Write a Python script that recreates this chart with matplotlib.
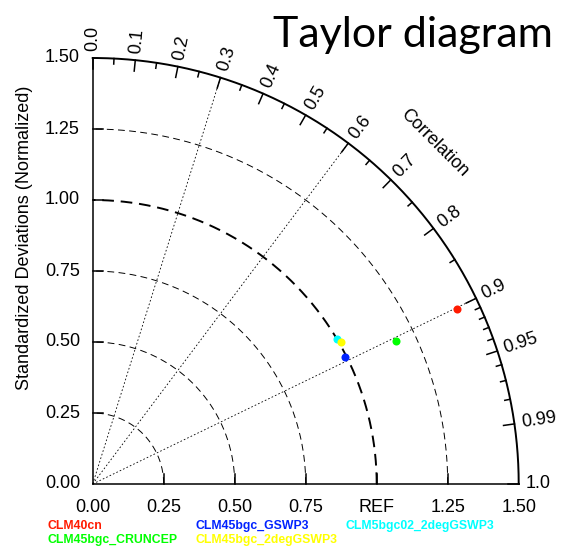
import numpy as np
import matplotlib
matplotlib.use("Agg")
import matplotlib.pyplot as plt

# model results: normalized standard deviation and correlation
names = ["CLM40cn", "CLM45bgc_CRUNCEP", "CLM45bgc_GSWP3",
         "CLM5bgc02_2degGSWP3", "CLM45bgc_2degGSWP3"]
colors = ["#ff1a00", "#00ff00", "#0022ff", "#00ffff", "#ffff00"]
stddev = [1.424, 1.181, 0.994, 0.9995, 1.007]
corr = [0.902, 0.904, 0.893, 0.860, 0.869]

# axis labels
std_ticks = [0.0, 0.25, 0.5, 0.75, 1.0, 1.25, 1.5]
x_ticklabels = ["0.00", "0.25", "0.50", "0.75", "REF", "1.25", "1.50"]
y_ticklabels = ["0.00", "0.25", "0.50", "0.75", "1.00", "1.25", "1.50"]
corr_major = [0.0, 0.1, 0.2, 0.3, 0.4, 0.5, 0.6, 0.7, 0.8, 0.9, 0.95, 0.99, 1.0]
corr_labels = ["0.0", "0.1", "0.2", "0.3", "0.4", "0.5", "0.6", "0.7", "0.8",
               "0.9", "0.95", "0.99", "1.0"]
corr_minor = [0.05, 0.15, 0.25, 0.35, 0.45, 0.55, 0.65, 0.75, 0.85,
              0.91, 0.92, 0.93, 0.94, 0.96, 0.97, 0.98]
corr_rays = [0.3, 0.6, 0.9]
std_arcs = [0.25, 0.5, 0.75, 1.25]

plt.rcParams['font.family'] = ['Liberation Sans', 'DejaVu Sans']

W, H = 567, 547
fig = plt.figure(figsize=(W / 100, H / 100), dpi=100)
# origin at pixel (92.7, 484), radius 1.5 = 426 px
ax = fig.add_axes([92.7 / W, (H - 484) / H, 426 / W, 426 / H])
ax.set_xlim(0, 1.5)
ax.set_ylim(0, 1.5)
ax.axis('off')
px = 1.5 / 426  # data units per pixel

t = np.linspace(0, np.pi / 2, 400)
rmax = 1.5

# outer arc and axes
ax.plot(rmax * np.cos(t), rmax * np.sin(t), color='black', lw=1.4, clip_on=False)
ax.plot([0, 0], [0, rmax], color='black', lw=1.1, clip_on=False)
ax.plot([0, rmax], [0, 0], color='black', lw=1.1, clip_on=False)

# std dev arcs
for r in std_arcs:
    ax.plot(r * np.cos(t), r * np.sin(t), color='black', lw=0.7,
            dashes=(7, 4.5), clip_on=False)
ax.plot(np.cos(t), np.sin(t), color='black', lw=1.4, dashes=(6, 3.5), clip_on=False)

# correlation rays
for c in corr_rays:
    a = np.arccos(c)
    ax.plot([0, rmax * np.cos(a)], [0, rmax * np.sin(a)], color='black',
            lw=0.6, dashes=(2, 2.5), clip_on=False)

# ticks on straight axes
for v in std_ticks[1:-1]:
    ax.plot([0, 10 * px], [v, v], color='black', lw=1.1, clip_on=False)
    ax.plot([v, v], [0, 10 * px], color='black', lw=1.1, clip_on=False)

for v, lab in zip(std_ticks, x_ticklabels):
    ax.text(v, -15 * px, lab, ha='center', va='top', fontsize=13)
for v, lab in zip(std_ticks, y_ticklabels):
    ax.text(-12.7 * px, v, lab, ha='right', va='center', fontsize=13)

# correlation ticks and labels
for c, lab in zip(corr_major, corr_labels):
    a = np.arccos(c)
    ax.plot([rmax * np.cos(a), (rmax - 11 * px) * np.cos(a)],
            [rmax * np.sin(a), (rmax - 11 * px) * np.sin(a)],
            color='black', lw=1.1, clip_on=False)
    rl = rmax + 7 * px
    ax.text(rl * np.cos(a), rl * np.sin(a), lab, rotation=np.degrees(a),
            rotation_mode='anchor', ha='left', va='center', fontsize=13)
for c in corr_minor:
    a = np.arccos(c)
    ax.plot([rmax * np.cos(a), (rmax - 5.5 * px) * np.cos(a)],
            [rmax * np.sin(a), (rmax - 5.5 * px) * np.sin(a)],
            color='black', lw=1.1, clip_on=False)

rc = 1.70
ax.text(rc * np.cos(np.pi / 4), rc * np.sin(np.pi / 4), "Correlation",
        rotation=-45, ha='center', va='center', fontsize=13,
        rotation_mode='anchor')

# model points
for s, c, col in zip(stddev, corr, colors):
    a = np.arccos(c)
    ax.plot(s * np.cos(a), s * np.sin(a), 'o', color=col, markersize=5.8,
            markeredgewidth=0, clip_on=False)

fig.text(25 / W, 1 - 238 / H, "Standardized Deviations (Normalized)",
         rotation=90, ha='center', va='center', fontsize=13)

fig.text(553 / W, 1 - 47 / H, "Taylor diagram", ha='right', va='baseline',
         fontsize=31, family=['Lato', 'DejaVu Sans'])

# legend text
legend_pos = [(48, 526), (48, 540.5), (196, 526), (346, 526), (196, 540.5)]
for name, col, (lx, ly) in zip(names, colors, legend_pos):
    fig.text(lx / W, 1 - ly / H, name, color=col, fontsize=8.8,
             fontweight='bold', ha='left', va='center')

fig.savefig("out.png", dpi=100)
